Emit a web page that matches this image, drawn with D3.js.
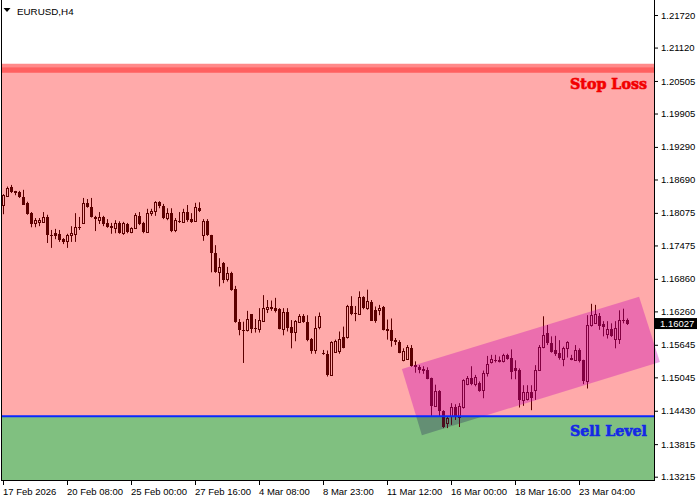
<!DOCTYPE html>
<html><head><meta charset="utf-8">
<script src="https://cdn.jsdelivr.net/npm/d3@7/dist/d3.min.js"></script>
<style>
html,body{margin:0;padding:0;background:#fff;}
svg{display:block;font-family:"Liberation Sans",Arial,sans-serif;}
</style></head>
<body>
<svg id="chart" width="700" height="500"></svg>
<script>
const symbolLabel = "EURUSD,H4";
const opens = [1.1822,1.1839,1.1855,1.1847,1.1846,1.1837,1.1826,1.1807,1.1789,1.1791,
1.1791,1.1800,1.1767,1.1770,1.1769,1.1759,1.1755,1.1767,1.1769,1.1781,
1.1789,1.1826,1.1818,1.1800,1.1794,1.1800,1.1789,1.1783,1.1780,1.1789,
1.1770,1.1787,1.1772,1.1779,1.1802,1.1789,1.1772,1.1807,1.1811,1.1827,
1.1820,1.1798,1.1807,1.1776,1.1793,1.1790,1.1809,1.1796,1.1792,1.1816,
1.1766,1.1793,1.1766,1.1734,1.1698,1.1715,1.1686,1.1697,1.1667,1.1607,
1.1592,1.1591,1.1621,1.1595,1.1594,1.1609,1.1630,1.1633,1.1632,1.1630,
1.1594,1.1624,1.1598,1.1588,1.1606,1.1617,1.1607,1.1575,1.1554,1.1597,
1.1549,1.1548,1.1509,1.1552,1.1553,1.1579,1.1579,1.1636,1.1623,1.1621,
1.1652,1.1632,1.1644,1.1629,1.1629,1.1635,1.1593,1.1592,1.1574,1.1569,
1.1537,1.1539,1.1559,1.1527,1.1523,1.1519,1.1518,1.1503,1.1452,1.1479,
1.1443,1.1420,1.1433,1.1450,1.1432,1.1449,1.1492,1.1504,1.1493,1.1495,
1.1481,1.1512,1.1532,1.1537,1.1534,1.1534,1.1546,1.1541,1.1521,1.1518,
1.1463,1.1464,1.1478,1.1481,1.1518,1.1561,1.1586,1.1567,1.1554,1.1550,
1.1539,1.1558,1.1541,1.1537,1.1555,1.1536,1.1497,1.1601,1.1604,1.1617,
1.1602,1.1584,1.1594,1.1576,1.1576,1.1611,1.1611];
const highs = [1.1842,1.1856,1.1859,1.1848,1.1848,1.1850,1.1828,1.1809,1.1798,1.1798,
1.1809,1.1804,1.1776,1.1778,1.1776,1.1761,1.1769,1.1783,1.1807,1.1800,
1.1835,1.1833,1.1835,1.1802,1.1809,1.1802,1.1796,1.1789,1.1794,1.1792,
1.1791,1.1789,1.1781,1.1807,1.1809,1.1791,1.1815,1.1815,1.1829,1.1829,
1.1824,1.1816,1.1816,1.1798,1.1809,1.1815,1.1822,1.1807,1.1826,1.1827,
1.1796,1.1796,1.1767,1.1748,1.1724,1.1717,1.1708,1.1699,1.1673,1.1612,
1.1607,1.1627,1.1621,1.1612,1.1632,1.1656,1.1647,1.1646,1.1651,1.1632,
1.1632,1.1632,1.1610,1.1610,1.1621,1.1621,1.1619,1.1577,1.1617,1.1624,
1.1555,1.1554,1.1571,1.1574,1.1589,1.1598,1.1638,1.1654,1.1636,1.1663,
1.1654,1.1666,1.1647,1.1635,1.1638,1.1636,1.1611,1.1613,1.1577,1.1573,
1.1558,1.1564,1.1564,1.1534,1.1527,1.1525,1.1523,1.1504,1.1491,1.1481,
1.1444,1.1433,1.1457,1.1455,1.1457,1.1501,1.1507,1.1525,1.1509,1.1497,
1.1517,1.1544,1.1546,1.1546,1.1543,1.1548,1.1548,1.1556,1.1536,1.1521,
1.1490,1.1490,1.1490,1.1527,1.1564,1.1617,1.1601,1.1580,1.1581,1.1573,
1.1561,1.1571,1.1546,1.1564,1.1558,1.1537,1.1619,1.1640,1.1638,1.1623,
1.1608,1.1608,1.1604,1.1608,1.1628,1.1631,1.1613];
const lows = [1.1805,1.1837,1.1844,1.1840,1.1835,1.1822,1.1804,1.1781,1.1781,1.1783,
1.1789,1.1752,1.1743,1.1759,1.1754,1.1750,1.1743,1.1754,1.1754,1.1776,
1.1788,1.1817,1.1799,1.1774,1.1787,1.1783,1.1780,1.1769,1.1770,1.1769,
1.1767,1.1770,1.1770,1.1778,1.1785,1.1770,1.1771,1.1802,1.1802,1.1816,
1.1796,1.1794,1.1772,1.1772,1.1789,1.1789,1.1791,1.1789,1.1791,1.1809,
1.1756,1.1765,1.1698,1.1697,1.1672,1.1678,1.1681,1.1664,1.1605,1.1582,
1.1531,1.1589,1.1586,1.1587,1.1587,1.1607,1.1623,1.1627,1.1624,1.1593,
1.1582,1.1589,1.1558,1.1571,1.1605,1.1605,1.1571,1.1548,1.1548,1.1593,
1.1546,1.1506,1.1507,1.1550,1.1548,1.1558,1.1576,1.1619,1.1608,1.1620,
1.1630,1.1629,1.1609,1.1605,1.1619,1.1591,1.1574,1.1561,1.1564,1.1549,
1.1534,1.1537,1.1524,1.1513,1.1512,1.1511,1.1501,1.1432,1.1451,1.1433,
1.1411,1.1411,1.1417,1.1426,1.1413,1.1447,1.1490,1.1490,1.1488,1.1478,
1.1466,1.1506,1.1530,1.1532,1.1532,1.1532,1.1537,1.1501,1.1501,1.1449,
1.1452,1.1462,1.1444,1.1463,1.1517,1.1558,1.1564,1.1550,1.1544,1.1537,
1.1525,1.1541,1.1536,1.1536,1.1532,1.1492,1.1484,1.1598,1.1603,1.1592,
1.1580,1.1576,1.1579,1.1558,1.1566,1.1604,1.1601];
const closes = [1.1840,1.1854,1.1846,1.1844,1.1837,1.1822,1.1805,1.1787,1.1794,1.1794,
1.1800,1.1767,1.1766,1.1765,1.1757,1.1754,1.1767,1.1770,1.1781,1.1780,
1.1826,1.1818,1.1800,1.1796,1.1800,1.1787,1.1781,1.1780,1.1789,1.1770,
1.1789,1.1772,1.1779,1.1804,1.1787,1.1772,1.1807,1.1811,1.1827,1.1820,
1.1798,1.1807,1.1774,1.1794,1.1790,1.1809,1.1794,1.1790,1.1818,1.1811,
1.1793,1.1766,1.1734,1.1698,1.1708,1.1684,1.1697,1.1665,1.1606,1.1591,
1.1591,1.1612,1.1594,1.1594,1.1610,1.1633,1.1635,1.1635,1.1626,1.1594,
1.1624,1.1595,1.1587,1.1608,1.1617,1.1606,1.1573,1.1553,1.1596,1.1617,
1.1548,1.1509,1.1569,1.1571,1.1576,1.1559,1.1636,1.1621,1.1622,1.1652,
1.1632,1.1646,1.1609,1.1609,1.1633,1.1592,1.1590,1.1571,1.1569,1.1550,
1.1553,1.1561,1.1525,1.1523,1.1518,1.1517,1.1502,1.1452,1.1479,1.1442,
1.1413,1.1430,1.1450,1.1432,1.1451,1.1500,1.1504,1.1492,1.1506,1.1479,
1.1512,1.1530,1.1539,1.1534,1.1537,1.1546,1.1539,1.1515,1.1517,1.1463,
1.1478,1.1478,1.1466,1.1518,1.1561,1.1582,1.1567,1.1552,1.1548,1.1541,
1.1558,1.1569,1.1537,1.1555,1.1534,1.1497,1.1601,1.1619,1.1622,1.1599,
1.1598,1.1594,1.1580,1.1596,1.1610,1.1609,1.16027];

const yTickValues = [1.21720,1.21120,1.20505,1.19905,1.19290,1.18690,1.18075,1.17475,1.16860,1.16260,1.15645,1.15045,1.14430,1.13815,1.13215];
const xTickBars = [0,16,32,48,64,80,96,112,128,144];
const xTickLabels = ["17 Feb 2026","20 Feb 08:00","25 Feb 00:00","27 Feb 16:00","4 Mar 08:00","8 Mar 23:00","11 Mar 12:00","16 Mar 00:00","18 Mar 16:00","23 Mar 04:00"];

const stopLossLevel = 1.2073;
const sellLevel = 1.1433;
const lastPrice = 1.16027;
const channelBars = [99.6, 158.9, 164.1, 104.6];
const channelPrices = [1.1520, 1.1653, 1.1533, 1.1398];

const W = 700, H = 500;
const plotL = 2, plotR = 654, plotT = 2, plotB = 480;

const svg = d3.select("#chart");
const x = d3.scaleLinear().domain([0, 156]).range([3.5, 627.5]);
const y = d3.scaleLinear().domain([1.13215, 1.21720]).range([476.7, 15]);

const defs = svg.append("defs");
defs.append("clipPath").attr("id","plotclip").append("rect")
  .attr("x",plotL).attr("y",plotT).attr("width",plotR-plotL).attr("height",plotB-plotT);
defs.append("clipPath").attr("id","aboveSell").append("rect")
  .attr("x",0).attr("y",0).attr("width",W).attr("height",y(sellLevel));
defs.append("clipPath").attr("id","belowSell").append("rect")
  .attr("x",0).attr("y",y(sellLevel)).attr("width",plotR).attr("height",plotB-y(sellLevel));

svg.append("rect").attr("width",W).attr("height",H).attr("fill","#ffffff");

const bg = svg.append("g").attr("clip-path","url(#plotclip)");
bg.append("rect").attr("x",plotL).attr("width",plotR-plotL)
  .attr("y",y(stopLossLevel)).attr("height",y(sellLevel)-y(stopLossLevel)).attr("fill","#ffaaaa");
bg.append("rect").attr("x",plotL).attr("width",plotR-plotL)
  .attr("y",y(sellLevel)).attr("height",plotB-y(sellLevel)).attr("fill","#80c080");
// stop loss band
bg.append("rect").attr("x",plotL).attr("width",plotR-plotL)
  .attr("y",y(stopLossLevel)-5).attr("height",4).attr("fill","#ff8a8a");
bg.append("rect").attr("x",plotL).attr("width",plotR-plotL)
  .attr("y",y(stopLossLevel)-1.5).attr("height",5.5).attr("fill","#ff6060");

// candles
const cg = svg.append("g").attr("clip-path","url(#plotclip)");
const candleColor = "#5c0000";
opens.forEach((o,i)=>{
  const c = closes[i], h = highs[i], l = lows[i];
  const cx = x(i);
  const top = y(Math.max(o,c)), bot = y(Math.min(o,c));
  const bull = c > o;
  if (bull) {
    const t = Math.round(top)+0.5, b = Math.max(Math.round(bot)+0.5, t+1);
    cg.append("line").attr("x1",cx).attr("x2",cx).attr("y1",y(h)).attr("y2",t)
      .attr("stroke",candleColor).attr("stroke-width",1);
    cg.append("line").attr("x1",cx).attr("x2",cx).attr("y1",b).attr("y2",y(l))
      .attr("stroke",candleColor).attr("stroke-width",1);
    cg.append("rect").attr("x",cx-1).attr("width",2).attr("y",t).attr("height",b-t)
      .attr("fill","none").attr("stroke",candleColor).attr("stroke-width",1);
  } else {
    cg.append("line").attr("x1",cx).attr("x2",cx).attr("y1",y(h)).attr("y2",y(l))
      .attr("stroke",candleColor).attr("stroke-width",1);
    const t = Math.round(top), hh = Math.max(Math.round(bot)-t, 1);
    cg.append("rect").attr("x",cx-1.5).attr("width",3).attr("y",t).attr("height",hh)
      .attr("fill",candleColor);
  }
});

// channel
const chPts = channelBars.map((b,i)=>[x(b), y(channelPrices[i])]);
const line = d3.line();
svg.append("path").attr("d", line(chPts)+"Z").attr("clip-path","url(#aboveSell)")
  .attr("fill","rgba(198,0,183,0.35)");
svg.append("path").attr("d", line(chPts)+"Z").attr("clip-path","url(#belowSell)")
  .attr("fill","rgba(40,40,90,0.32)");

// sell line
svg.append("line").attr("x1",plotL).attr("x2",plotR).attr("y1",y(sellLevel)).attr("y2",y(sellLevel))
  .attr("stroke","#0a28ff").attr("stroke-width",2);

// labels
svg.append("text").attr("x",647).attr("y",88.5).attr("text-anchor","end")
  .attr("font-family","'DejaVu Serif',serif").attr("font-weight","bold").attr("font-size",14.5)
  .attr("textLength",77).attr("lengthAdjust","spacingAndGlyphs")
  .attr("fill","#f20000").attr("stroke","#f20000").attr("stroke-width",0.6).text("Stop Loss");
svg.append("text").attr("x",647).attr("y",435.5).attr("text-anchor","end")
  .attr("font-family","'DejaVu Serif',serif").attr("font-weight","bold").attr("font-size",14.5)
  .attr("textLength",77).attr("lengthAdjust","spacingAndGlyphs")
  .attr("fill","#1428e6").attr("stroke","#1428e6").attr("stroke-width",0.6).text("Sell Level");

// frame
svg.append("line").attr("x1",plotL-0.5).attr("x2",plotL-0.5).attr("y1",0).attr("y2",plotB+1).attr("stroke","#000");
svg.append("line").attr("x1",plotR+0.5).attr("x2",plotR+0.5).attr("y1",0).attr("y2",plotB+1).attr("stroke","#000");
svg.append("line").attr("x1",plotL-1).attr("x2",plotR+1).attr("y1",plotB+0.5).attr("y2",plotB+0.5).attr("stroke","#000");

// axes
const yAxis = d3.axisRight(y).tickValues(yTickValues).tickFormat(d3.format(".5f")).tickSize(3).tickPadding(3);
const ya = svg.append("g").attr("transform",`translate(${plotR+1},0)`).call(yAxis);
ya.select(".domain").remove();
ya.selectAll("text").attr("font-size",9.5).attr("font-family","'Liberation Sans',Arial,sans-serif").attr("fill","#000");
ya.selectAll("line").attr("stroke","#000");

const xAxis = d3.axisBottom(x).tickValues(xTickBars).tickFormat((d,i)=>xTickLabels[i]).tickSize(4).tickPadding(3);
const xa = svg.append("g").attr("transform",`translate(-0.5,${plotB+1})`).call(xAxis);
xa.select(".domain").remove();
xa.selectAll("text").attr("text-anchor","start").attr("dx","-0.5").attr("font-size",9.5)
  .attr("font-family","'Liberation Sans',Arial,sans-serif").attr("fill","#000");
xa.selectAll("line").attr("stroke","#000");

// price tag
const tagY = y(lastPrice);
svg.append("rect").attr("x",655).attr("y",tagY-6).attr("width",42).attr("height",11).attr("fill","#000");
svg.append("text").attr("x",660).attr("y",tagY+3.3).attr("font-size",9.5).attr("fill","#fff")
  .text(d3.format(".5f")(lastPrice));

// title
svg.append("path").attr("d","M3.5,8 L10.5,8 L7,12 Z").attr("fill","#000");
svg.append("text").attr("x",17).attr("y",14.5).attr("font-size",9.8).attr("fill","#000").text(symbolLabel);
</script>
</body></html>
